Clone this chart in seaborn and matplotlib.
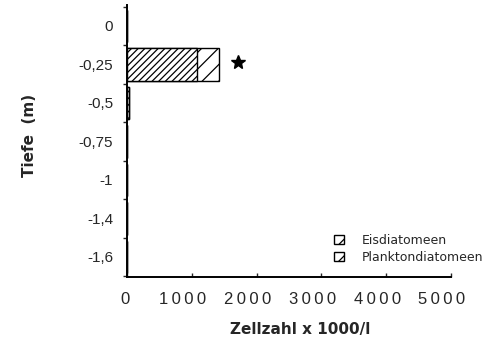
import matplotlib
matplotlib.use("Agg")
import matplotlib.pyplot as plt
import matplotlib.patches as mpatches
import matplotlib.transforms as mtransforms
from matplotlib.ticker import FixedLocator
import seaborn as sns
import pandas as pd

# Depth classes (m) and cell counts (x 1000 cells per litre)
depths = ["0", "-0,25", "-0,5", "-0,75", "-1", "-1,4", "-1,6"]
eis = [0, 1085, 30, 6, 3, 5, 3]
plankton = [0, 340, 0, 0, 0, 0, 0]
x_ticks = [0, 1000, 2000, 3000, 4000, 5000]
star_depth = "-0,25"
star_x = 1720

df = pd.DataFrame({"Tiefe": depths, "Eis": eis, "Plankton": plankton})
df["Gesamt"] = df["Eis"] + df["Plankton"]

sns.set_theme(style="white")
tick_font = ["Liberation Sans", "DejaVu Sans"]
plt.rcParams["font.family"] = ["DejaVu Sans"]
plt.rcParams["hatch.linewidth"] = 0.9
plt.rcParams["hatch.color"] = "black"

fig = plt.figure(figsize=(4.89, 3.42), dpi=100)
ax = fig.add_axes([127 / 489, 1 - 277 / 342, 324 / 489, 272 / 342])

# total bar (plankton part shows sparse hatching), ice part drawn over it
sns.barplot(data=df, y="Tiefe", x="Gesamt", order=depths, orient="h",
            color="white", edgecolor="black", linewidth=1.0, width=0.84,
            hatch="//", ax=ax)
sns.barplot(data=df, y="Tiefe", x="Eis", order=depths, orient="h",
            color="white", edgecolor="black", linewidth=1.0, width=0.84,
            hatch="/////", ax=ax)

ax.plot([star_x], [depths.index(star_depth) - 0.06], marker="*",
        color="black", markersize=10, linestyle="none")

ax.set_xlim(0, 5000)
ax.set_ylim(6.52, -0.545)
ax.set_xticks(x_ticks)
ax.set_xticklabels(["\u2009".join(str(t)) for t in x_ticks],
                   fontsize=12, family=tick_font)
ax.set_yticks(range(len(depths)))
ax.set_yticklabels(depths, fontsize=11, family=tick_font)
ax.yaxis.set_minor_locator(FixedLocator([i - 0.5 for i in range(len(depths) + 1)]))
ax.tick_params(axis="y", which="major", length=0, pad=10)
ax.tick_params(axis="y", which="minor", length=3, width=1, direction="out", left=True)
ax.tick_params(axis="x", which="major", length=3, width=1, direction="in",
               bottom=True, pad=11)

# tick numbers sit slightly left of their tick marks
for t, lab in zip(x_ticks, ax.get_xticklabels()):
    dx = -2 if t == 0 else -9
    lab.set_transform(lab.get_transform()
                      + mtransforms.ScaledTranslation(dx / 100, 0, fig.dpi_scale_trans))

for s in ["top", "right"]:
    ax.spines[s].set_visible(False)
for s in ["left", "bottom"]:
    ax.spines[s].set_color("black")
    ax.spines[s].set_linewidth(1.4)

ax.set_xlabel("Zellzahl x 1000/l", fontsize=11, fontweight="bold")
ax.xaxis.set_label_coords(0.534, -0.165)
ax.set_ylabel("Tiefe  (m)", fontsize=11, fontweight="bold")
ax.yaxis.set_label_coords(-0.278, 0.522)

handles = [
    mpatches.Patch(facecolor="white", edgecolor="black", hatch="//", label="Eisdiatomeen"),
    mpatches.Patch(facecolor="white", edgecolor="black", hatch="/", label="Planktondiatomeen"),
]
fig.legend(handles=handles, loc="upper left", bbox_to_anchor=(334 / 489, 1 - 234 / 342),
           frameon=False, fontsize=9, handlelength=0.8, handleheight=0.75,
           handletextpad=1.4, labelspacing=0.3, borderpad=0.0, borderaxespad=0.0)

fig.savefig("out.png", dpi=100, facecolor="white")
